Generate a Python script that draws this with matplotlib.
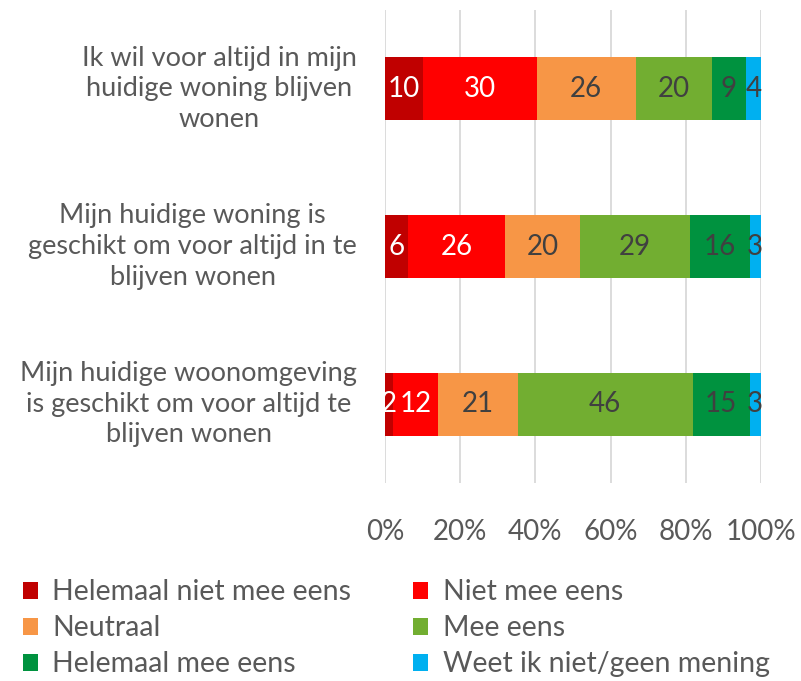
import matplotlib
matplotlib.use("Agg")
import matplotlib.pyplot as plt
import numpy as np
from matplotlib.patches import Patch
from matplotlib.transforms import blended_transform_factory

plt.rcParams["font.family"] = ["Lato", "DejaVu Sans"]

statements = [
    "Ik wil voor altijd in mijn\nhuidige woning blijven\nwonen",
    "Mijn huidige woning is\ngeschikt om voor altijd in te\nblijven wonen",
    "Mijn huidige woonomgeving\nis geschikt om voor altijd te\nblijven wonen",
]
answers = ["Helemaal niet mee eens", "Niet mee eens", "Neutraal",
           "Mee eens", "Helemaal mee eens", "Weet ik niet/geen mening"]
colors = ["#C00000", "#FF0000", "#F79646", "#72AE31", "#00923F", "#00B0F0"]
label_colors = ["white", "white", "#404040", "#404040", "#404040", "#404040"]

values = np.array([
    [10, 30, 26, 20, 9, 4],
    [6, 26, 20, 29, 16, 3],
    [2, 12, 21, 46, 15, 3],
], dtype=float)

# 100% gestapeld
shares = values / values.sum(axis=1, keepdims=True) * 100

fig = plt.figure(figsize=(8.01, 6.81), dpi=100)
ax = fig.add_axes([0.4806, 0.2907, 0.4694, 0.6946])

ypos = np.arange(len(statements))[::-1]
left = np.zeros(len(statements))
for j, ans in enumerate(answers):
    ax.barh(ypos, shares[:, j], left=left, height=0.4, color=colors[j],
            label=ans, zorder=2)
    for i in range(len(statements)):
        ax.text(left[i] + shares[i, j] / 2, ypos[i], f"{values[i, j]:.0f}",
                ha="center", va="center", fontsize=20, color=label_colors[j],
                zorder=3)
    left += shares[:, j]

ax.set_xlim(0, 100)
ax.set_ylim(-0.5, 2.5)
ax.set_xticks(np.arange(0, 101, 20))
ax.set_xticklabels([f"{t}%" for t in range(0, 101, 20)], fontsize=20,
                   color="#595959")
ax.tick_params(axis="x", length=0, pad=26)
ax.set_yticks([])
ax.grid(axis="x", color="#D9D9D9", lw=1.3, zorder=0)
for s in ax.spines.values():
    s.set_visible(False)

trans = blended_transform_factory(fig.transFigure, ax.transData)
for i, txt in enumerate(statements):
    ax.text(357 / 801, ypos[i], txt, transform=trans, ha="right", va="center",
            multialignment="center", fontsize=19.5, color="#595959",
            linespacing=1.28)

handles = [Patch(facecolor=c, label=a) for a, c in zip(answers, colors)]
order = [0, 2, 4, 1, 3, 5]
fig.legend([handles[k] for k in order], [answers[k] for k in order],
           ncol=2, loc="upper left", bbox_to_anchor=(0.014, 0.166),
           frameon=False, fontsize=20.5, labelcolor="#595959",
           handlelength=0.55, handleheight=0.55, handletextpad=0.5,
           columnspacing=2.15, labelspacing=0.35, borderaxespad=0)

fig.savefig("out.png", dpi=100)
